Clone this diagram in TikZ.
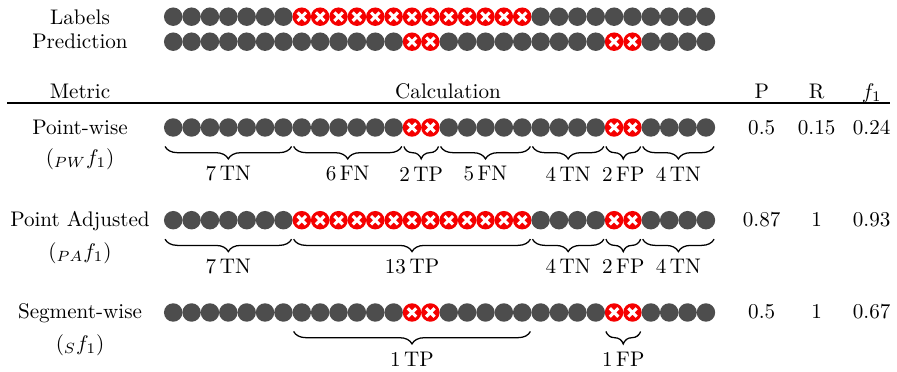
\documentclass[tikz,border=0pt]{standalone}
\usetikzlibrary{decorations.pathreplacing,calc}
\definecolor{dotgray}{HTML}{4D4D4D}
\definecolor{dotred}{HTML}{F50000}
\newcommand\mydotrow[3]{%
  \foreach \i in {0,...,29}{%
    \pgfmathtruncatemacro\isred{#3}%
    \ifnum\isred=1
      \node[rdot] (#1\i) at ({173.2+18.37*\i},#2) {};
    \else
      \node[gdot] (#1\i) at ({173.2+18.37*\i},#2) {};
    \fi}}
\newcommand\mybrace[5]{%
  \draw[brc] ($(#1#2.west |- #1#2.south)+(1.5,9.3)$) -- ($(#1#3.east |- #1#3.south)+(-1.5,9.3)$);
  \node[lbl] (#4) at ($(#1#2.center)!0.5!(#1#3.center)+(0,46.5)$) {#5};}
\begin{document}
\begin{tikzpicture}[x=0.4735pt,y=-0.4735pt,
  gdot/.style={circle,fill=dotgray,inner sep=0pt,minimum size=8.75pt},
  rdot/.style={circle,fill=dotred,inner sep=0pt,minimum size=8.75pt,
    path picture={\draw[white,line width=1.45pt]
      ([shift={(-2pt,-2pt)}]path picture bounding box.center) -- ([shift={(2pt,2pt)}]path picture bounding box.center)
      ([shift={(-2pt,2pt)}]path picture bounding box.center) -- ([shift={(2pt,-2pt)}]path picture bounding box.center);}},
  brc/.style={decorate,decoration={brace,mirror,amplitude=5.9pt},line width=0.6pt},
  lbl/.style={inner sep=0pt},
  txt/.style={anchor=base,inner sep=0pt}]
\useasboundingbox (0,0) rectangle (897,372);
% top rows
\node[txt] (tlab) at (80,25) {Labels};
\node[txt] (tpred) at (80,48.5) {Prediction};
\mydotrow{L}{16.7}{and(\i>=7,\i<=19)}
\mydotrow{Q}{41.7}{or(and(\i>=13,\i<=14),and(\i>=24,\i<=25))}
% header
\node[txt] (tmetric) at (80,98.3) {Metric};
\node[txt] (tcalc) at (448,98.3) {Calculation};
\node[txt] (tP) at (761.7,98.3) {P};
\node[txt] (tR) at (816.7,98.3) {R};
\node[txt] (tF) at (871.7,98.3) {$f_1$};
\coordinate (rl) at (7,102.7);
\coordinate (rr) at (890,102.7);
\draw[line width=0.8pt] (rl) -- (rr);
% point-wise
\node[txt] (pwn) at (80,135) {Point-wise};
\node[lbl] (pwm) at (80,159) {$({}_{PW}f_1)$};
\mydotrow{P}{127.5}{or(and(\i>=13,\i<=14),and(\i>=24,\i<=25))}
\mybrace{P}{0}{6}{pb1}{7\,TN}
\mybrace{P}{7}{12}{pb2}{6\,FN}
\mybrace{P}{13}{14}{pb3}{2\,TP}
\mybrace{P}{15}{19}{pb4}{5\,FN}
\mybrace{P}{20}{23}{pb5}{4\,TN}
\mybrace{P}{24}{25}{pb6}{2\,FP}
\mybrace{P}{26}{29}{pb7}{4\,TN}
\node[txt] (pwp) at (761.7,135) {0.5};
\node[txt] (pwr) at (816.7,135) {0.15};
\node[txt] (pwf) at (871.7,135) {0.24};
% point adjusted
\node[txt] (pan) at (80,226.7) {Point Adjusted};
\node[lbl] (pam) at (80,253) {$({}_{PA}f_1)$};
\mydotrow{A}{220.2}{or(and(\i>=7,\i<=19),and(\i>=24,\i<=25))}
\mybrace{A}{0}{6}{ab1}{7\,TN}
\mybrace{A}{7}{19}{ab2}{13\,TP}
\mybrace{A}{20}{23}{ab3}{4\,TN}
\mybrace{A}{24}{25}{ab4}{2\,FP}
\mybrace{A}{26}{29}{ab5}{4\,TN}
\node[txt] (pap) at (761.7,226.7) {0.87};
\node[txt] (par) at (816.7,226.7) {1};
\node[txt] (paf) at (871.7,226.7) {0.93};
% segment-wise
\node[txt] (swn) at (80,318.5) {Segment-wise};
\node[lbl] (swm) at (80,345) {$({}_{S}f_1)$};
\mydotrow{S}{312.5}{or(and(\i>=13,\i<=14),and(\i>=24,\i<=25))}
\mybrace{S}{7}{19}{sb1}{1\,TP}
\mybrace{S}{24}{25}{sb2}{1\,FP}
\node[txt] (swp) at (761.7,318.5) {0.5};
\node[txt] (swr) at (816.7,318.5) {1};
\node[txt] (swf) at (871.7,318.5) {0.67};
\end{tikzpicture}
\end{document}
